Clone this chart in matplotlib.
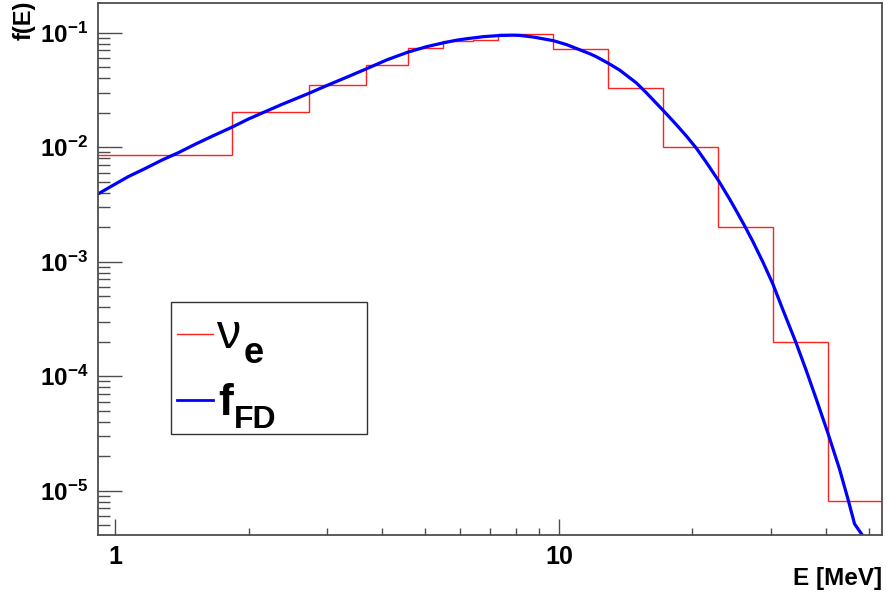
import matplotlib
matplotlib.use("Agg")
import matplotlib.pyplot as plt
from matplotlib.ticker import FixedLocator, FixedFormatter
from matplotlib.lines import Line2D
from matplotlib.patches import Rectangle

plt.rcParams['font.family'] = ['Liberation Sans', 'DejaVu Sans']
plt.rcParams['font.weight'] = 'bold'
plt.rcParams['mathtext.fontset'] = 'custom'
plt.rcParams['mathtext.rm'] = 'Liberation Sans:bold'
plt.rcParams['mathtext.it'] = 'Liberation Sans:bold'
plt.rcParams['mathtext.bf'] = 'Liberation Sans:bold'
plt.rcParams['mathtext.default'] = 'rm'

# nu_e spectrum histogram: bin edges [MeV] and contents
bin_edges = [0.915, 1.835, 2.74, 3.67, 4.57, 5.495, 6.41, 7.31,
             9.72, 12.92, 17.21, 22.89, 30.45, 40.46, 53.5]
nue_counts = [0.00846, 0.0204, 0.0352, 0.0526, 0.0731, 0.0842, 0.0866,
              0.098, 0.0716, 0.0331, 0.0100, 0.0020, 1.97e-4, 8.2e-6]

# Fermi-Dirac fit curve f_FD(E)
fd_energy = [0.915, 0.983, 1.071, 1.168, 1.274, 1.389, 1.515, 1.651, 1.833,
             1.997, 2.178, 2.375, 2.727, 3.025, 3.385, 3.692, 4.095, 4.567,
             5.04, 5.495, 5.89, 6.204, 6.76, 7.375, 7.90, 8.18, 8.77, 9.075,
             9.72, 10.42, 10.98, 11.77, 12.14, 12.92, 13.70, 14.94, 15.73,
             17.21, 18.38, 19.42, 20.41, 21.48, 22.89, 24.22, 25.09, 26.2,
             27.37, 28.83, 30.36, 31.98, 34.26, 36.08, 38.0, 40.4, 42.9,
             44.8, 46.4, 48.3, 49.3]
fd_value = [0.0039, 0.00458, 0.00553, 0.00650, 0.00770, 0.00895, 0.01060,
            0.01240, 0.01493, 0.01760, 0.0204, 0.0236, 0.0294, 0.0350,
            0.0420, 0.0485, 0.0578, 0.0675, 0.0755, 0.0815, 0.0860, 0.0885,
            0.0922, 0.0945, 0.0950, 0.0945, 0.0915, 0.0893, 0.0851, 0.0785,
            0.0725, 0.0652, 0.0617, 0.0541, 0.0472, 0.0365, 0.0300, 0.0208,
            0.0158, 0.0124, 0.0098, 0.0074, 0.00512, 0.00356, 0.0028,
            0.00207, 0.0015, 9.94e-4, 6.39e-4, 3.81e-4, 1.95e-4, 1.13e-4,
            6.38e-5, 3.19e-5, 1.55e-5, 8.55e-6, 5.12e-6, 4.1e-6, 3.7e-6]

y_major = [1e-5, 1e-4, 1e-3, 1e-2, 1e-1]
y_labels = [r'$10^{-5}$', r'$10^{-4}$', r'$10^{-3}$', r'$10^{-2}$', r'$10^{-1}$']
x_major = [1, 10]
x_labels = ['1', '10']

W, H = 886, 597
fig = plt.figure(figsize=(W / 100, H / 100), dpi=100)
ax = fig.add_axes([98 / W, (H - 535) / H, 784 / W, 532 / H])

ax.stairs(nue_counts, bin_edges, baseline=None, color='#ff2020', lw=1.0)
ax.plot(fd_energy, fd_value, color='#0000ff', lw=2.3, solid_joinstyle='round')

ax.set_xscale('log')
ax.set_yscale('log')
ax.set_xlim(bin_edges[0], bin_edges[-1])
ax.set_ylim(4.1e-6, 0.1815)

ax.xaxis.set_major_locator(FixedLocator(x_major))
ax.xaxis.set_major_formatter(FixedFormatter(x_labels))
x_minor = [m * d for d in (1, 10) for m in range(2, 10)]
ax.xaxis.set_minor_locator(FixedLocator([v for v in x_minor if v < bin_edges[-1]]))
ax.xaxis.set_minor_formatter(FixedFormatter([]))

ax.yaxis.set_major_locator(FixedLocator(y_major))
ax.yaxis.set_major_formatter(FixedFormatter(y_labels))
y_minor = [m * 10.0 ** e for e in range(-6, 0) for m in range(2, 10)]
ax.yaxis.set_minor_locator(FixedLocator(y_minor))
ax.yaxis.set_minor_formatter(FixedFormatter([]))

frame_col = '#4d4d4d'
for s in ax.spines.values():
    s.set_color(frame_col)
    s.set_linewidth(1.3)

ax.tick_params(which='both', direction='in', top=False, right=False,
               color=frame_col, width=1.0)
ax.tick_params(axis='y', which='major', length=17.5, labelsize=17.5, pad=7)
ax.tick_params(axis='y', which='minor', length=8.6)
ax.tick_params(axis='x', which='major', length=11.5, labelsize=18, pad=7)
ax.tick_params(axis='x', which='minor', length=5.4)

# axis titles
fig.text(24 / W, 1 - 1 / H, 'f(E)', rotation=90, ha='center', va='top',
         fontsize=17, fontweight='bold')
fig.text(882 / W, 1 - 579 / H, 'E [MeV]', ha='right', va='center',
         fontsize=17.5, fontweight='bold')

# legend box
fig.patches.append(Rectangle((171 / W, 1 - 434 / H), 196 / W, 132.5 / H,
                             transform=fig.transFigure, facecolor='white',
                             edgecolor='#333333', lw=1.0, zorder=5))
fig.lines.append(Line2D([177 / W, 213 / W], [1 - 334 / H] * 2,
                        transform=fig.transFigure, color='#ff2020', lw=1.0,
                        zorder=6))
fig.lines.append(Line2D([177 / W, 213 / W], [1 - 400 / H] * 2,
                        transform=fig.transFigure, color='#0000ff', lw=2.0,
                        zorder=6))
fig.text(216 / W, 1 - 348 / H, 'ν', ha='left', va='baseline', fontsize=35,
         fontweight='normal', zorder=7)
fig.text(244 / W, 1 - 363 / H, 'e', ha='left', va='baseline', fontsize=26,
         fontweight='bold', zorder=7)
fig.text(218 / W, 1 - 415 / H, 'f', ha='left', va='baseline', fontsize=32,
         fontweight='bold', zorder=7)
fig.text(234 / W, 1 - 428 / H, 'FD', ha='left', va='baseline', fontsize=23,
         fontweight='bold', zorder=7)

fig.savefig('out.png', dpi=100)
